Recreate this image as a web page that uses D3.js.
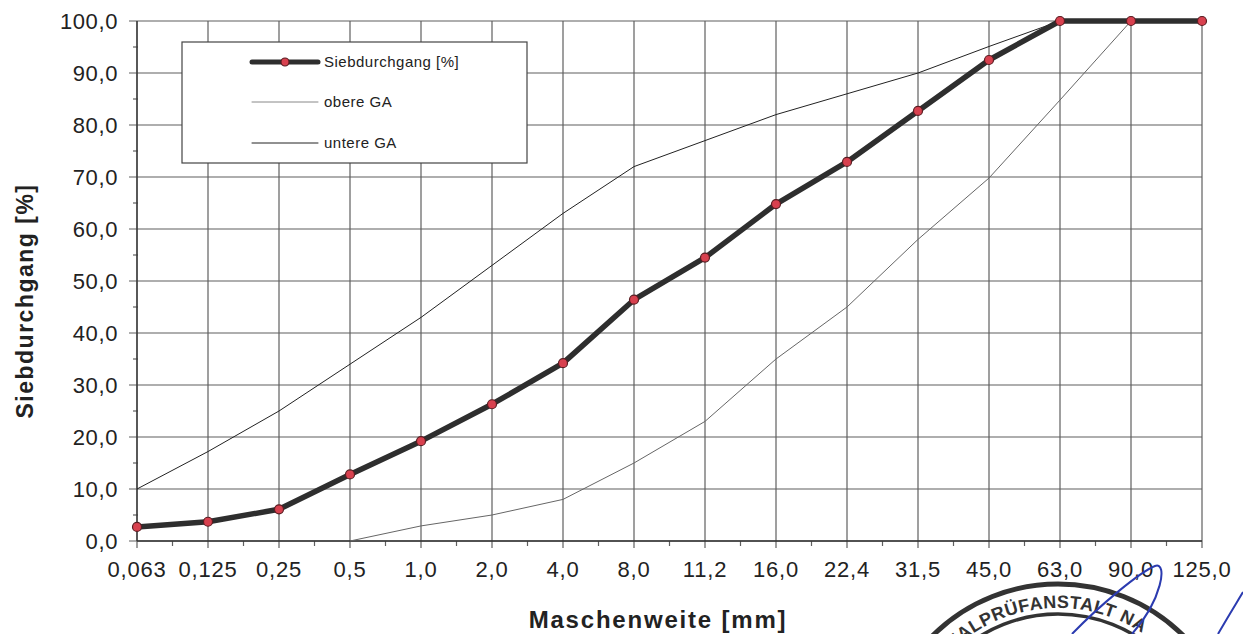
<!DOCTYPE html>
<html>
<head>
<meta charset="utf-8">
<script src="https://d3js.org/d3.v7.min.js"></script>
<style>
  body { margin: 0; background: #fff; }
  svg { display: block; font-family: "Liberation Sans", Arial, sans-serif; }
</style>
</head>
<body>
<svg id="chart" width="1243" height="634"></svg>
<script>
// sieve sizes (category axis) and the three curves
const sieveLabels = ["0,063", "0,125", "0,25", "0,5", "1,0", "2,0", "4,0", "8,0", "11,2", "16,0", "22,4", "31,5", "45,0", "63,0", "90,0", "125,0"];
const passing = [2.7, 3.7, 6.1, 12.8, 19.2, 26.3, 34.2, 46.4, 54.5, 64.8, 72.9, 82.7, 92.5, 100, 100, 100];
const upperLimit = [10, 17.2, 25, 34, 43, 53, 63, 72, 77, 82, 86, 90, 95.1, 100, 100, 100];
const lowerLimit = [null, null, null, 0, 2.9, 5, 8, 15, 23, 35, 45, 58, 69.8, 84.8, 100, 100];
const yTicks = [0, 10, 20, 30, 40, 50, 60, 70, 80, 90, 100];
const legendNames = ["Siebdurchgang [%]", "obere GA", "untere GA"];

const svg = d3.select("#chart");
const plotLeft = 137, plotRight = 1202, plotTop = 21, plotBottom = 541;

const x = d3.scalePoint().domain(sieveLabels).range([plotLeft, plotRight]);
const y = d3.scaleLinear().domain([0, 100]).range([plotBottom, plotTop]);
const step = x.step();
const fmt = d => d3.format(".1f")(d).replace(".", ",");

// grid
const grid = svg.append("g").attr("stroke", "#5f5f5f").attr("stroke-width", 1.2);
grid.selectAll(".gx").data(sieveLabels).join("line")
  .attr("x1", d => x(d)).attr("x2", d => x(d))
  .attr("y1", plotTop).attr("y2", plotBottom + 7);
grid.selectAll(".gy").data(yTicks).join("line")
  .attr("x1", plotLeft - 8).attr("x2", plotRight)
  .attr("y1", d => y(d)).attr("y2", d => y(d));

// minor ticks
const minorY = yTicks.slice(0, -1).map(d => d + 5);
grid.selectAll(".my").data(minorY).join("line")
  .attr("x1", plotLeft - 4).attr("x2", plotLeft + 1)
  .attr("y1", d => y(d)).attr("y2", d => y(d));
grid.selectAll(".mx").data(sieveLabels.slice(0, -1)).join("line")
  .attr("x1", d => x(d) + step / 2).attr("x2", d => x(d) + step / 2)
  .attr("y1", plotBottom).attr("y2", plotBottom + 5);

// axis lines
svg.append("line").attr("x1", plotLeft).attr("x2", plotLeft).attr("y1", plotTop).attr("y2", plotBottom)
  .attr("stroke", "#333").attr("stroke-width", 1.3);
svg.append("line").attr("x1", plotLeft).attr("x2", plotRight).attr("y1", plotBottom).attr("y2", plotBottom)
  .attr("stroke", "#333").attr("stroke-width", 1.3);

// tick labels
svg.append("g").selectAll("text").data(yTicks).join("text")
  .attr("x", 118).attr("y", d => y(d) + 8)
  .attr("text-anchor", "end")
  .style("font-size", "22px").style("letter-spacing", "0.6px").attr("fill", "#222")
  .text(fmt);
svg.append("g").selectAll("text").data(sieveLabels).join("text")
  .attr("x", d => x(d)).attr("y", 577)
  .attr("text-anchor", "middle")
  .style("font-size", "22px").style("letter-spacing", "0.8px").attr("fill", "#222")
  .text(d => d);

// axis titles
svg.append("text")
  .attr("transform", "translate(33,301) rotate(-90)")
  .attr("text-anchor", "middle")
  .style("font-size", "23px").style("font-weight", "bold").style("letter-spacing", "1.5px")
  .attr("fill", "#222")
  .text("Siebdurchgang [%]");
svg.append("text")
  .attr("x", 658).attr("y", 628)
  .attr("text-anchor", "middle")
  .style("font-size", "24px").style("font-weight", "bold").style("letter-spacing", "1.8px")
  .attr("fill", "#222")
  .text("Maschenweite [mm]");

// curves
const line = d3.line()
  .defined(d => d.v !== null)
  .x(d => x(d.k)).y(d => y(d.v));
const series = arr => sieveLabels.map((k, i) => ({ k: k, v: arr[i] }));

svg.append("path").datum(series(lowerLimit)).attr("d", line)
  .attr("fill", "none").attr("stroke", "#666").attr("stroke-width", 1);
svg.append("path").datum(series(upperLimit)).attr("d", line)
  .attr("fill", "none").attr("stroke", "#222").attr("stroke-width", 1);
svg.append("path").datum(series(passing)).attr("d", line)
  .attr("fill", "none").attr("stroke", "#2e2e2e").attr("stroke-width", 5.5)
  .attr("stroke-linejoin", "round");
svg.append("g").selectAll("circle").data(series(passing)).join("circle")
  .attr("cx", d => x(d.k)).attr("cy", d => y(d.v)).attr("r", 4.5)
  .attr("fill", "#d8414f").attr("stroke", "#5a1d22").attr("stroke-width", 1.2);

// legend
const lg = svg.append("g");
lg.append("rect").attr("x", 182).attr("y", 42).attr("width", 345).attr("height", 121)
  .attr("fill", "#fff").attr("stroke", "#444").attr("stroke-width", 1.2);
const rowY = [62, 102, 143];
const rowStyle = [{ c: "#2e2e2e", w: 5 }, { c: "#888", w: 1 }, { c: "#222", w: 1 }];
legendNames.forEach((name, i) => {
  lg.append("line").attr("x1", 252).attr("x2", 318).attr("y1", rowY[i]).attr("y2", rowY[i])
    .attr("stroke", rowStyle[i].c).attr("stroke-width", rowStyle[i].w).attr("stroke-linecap", "round");
  lg.append("text").attr("x", 324).attr("y", rowY[i] + 5)
    .style("font-size", "15px").style("letter-spacing", "0.5px").attr("fill", "#222")
    .text(name);
});
lg.append("circle").attr("cx", 285).attr("cy", rowY[0]).attr("r", 4)
  .attr("fill", "#d8414f").attr("stroke", "#5a1d22").attr("stroke-width", 1.2);

// stamp and signature (partly cut off at the bottom)
const st = svg.append("g");
const cx = 1058, cy = 762;
st.append("circle").attr("cx", cx).attr("cy", cy).attr("r", 178)
  .attr("fill", "none").attr("stroke", "#333").attr("stroke-width", 5);
st.append("circle").attr("cx", cx).attr("cy", cy).attr("r", 148)
  .attr("fill", "none").attr("stroke", "#333").attr("stroke-width", 3.5);
const arcR = 154;
const arcPath = d3.path();
arcPath.arc(cx, cy, arcR, -Math.PI / 2 - Math.PI * 0.42, -Math.PI / 2 + Math.PI * 0.42);
st.append("path").attr("id", "stampArc").attr("fill", "none").attr("d", arcPath.toString());
st.append("text").style("font-size", "18px").style("font-weight", "bold").style("letter-spacing", "0.5px")
  .attr("fill", "#333").attr("text-anchor", "end")
  .append("textPath").attr("href", "#stampArc").attr("startOffset", "72%")
  .text("MATERIALPRÜFANSTALT NA");
const sig = svg.append("g").attr("fill", "none").attr("stroke", "#2b3bb0").attr("stroke-width", 2);
sig.append("path").attr("d", "M1072,634 C1100,605 1140,572 1155,566 C1168,561 1162,600 1132,634");
sig.append("path").attr("d", "M1243,592 C1234,607 1226,620 1218,634");
</script>
</body>
</html>
